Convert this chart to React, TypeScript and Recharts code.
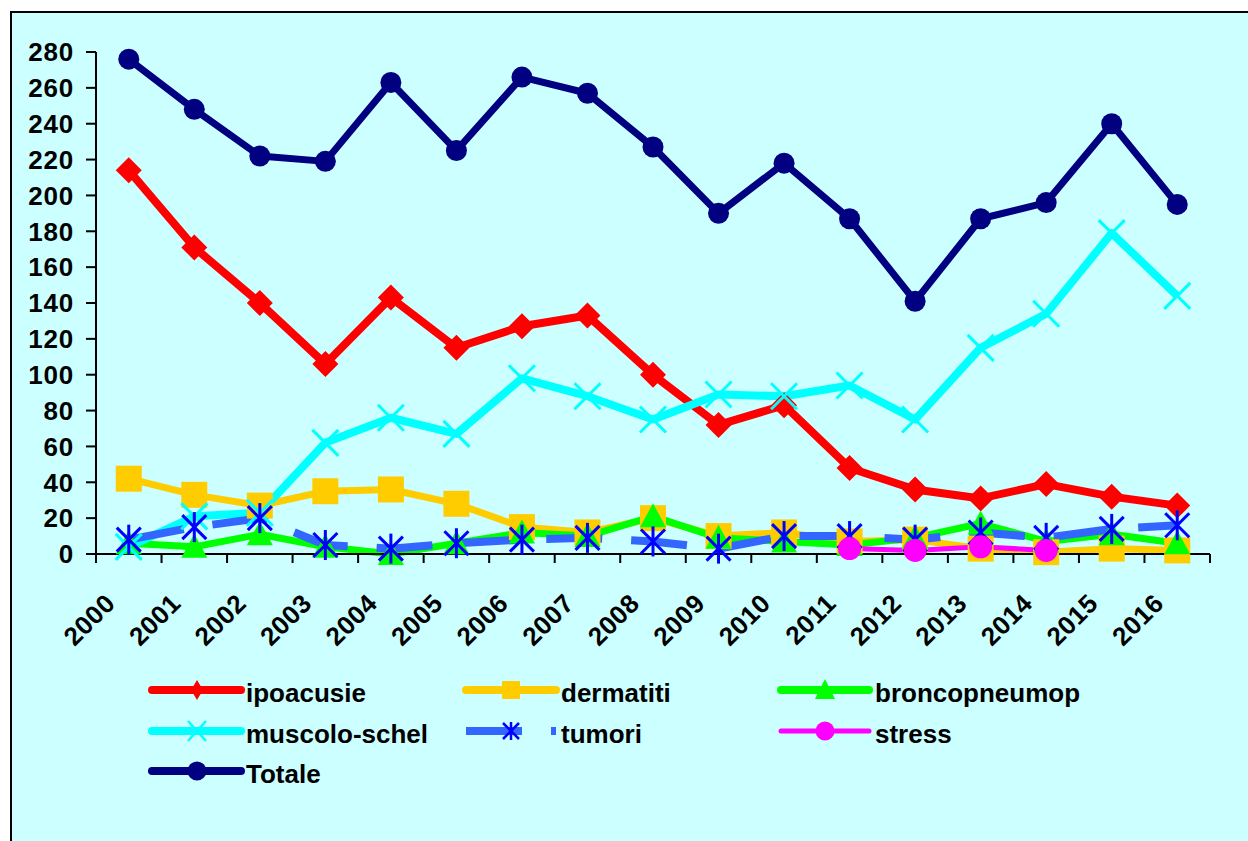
import React from 'react';
import { LineChart, Line, XAxis, YAxis } from 'recharts';

const YEARS = ['2000','2001','2002','2003','2004','2005','2006','2007','2008','2009','2010','2011','2012','2013','2014','2015','2016'];
const IPOACUSIE = [214,171,140,106,143,115,127,133,100,72,83,48,36,31,39,32,27];
const DERMATITI = [42,33,27,35,36,28,15,12,20,10,12,7,8,3,1,3,2];
const BRONCOPNEUMOP = [6,4,11,4,0,6,12,10,21,9,7,5,9,17,7,11,6];
const MUSCOLO = [4,21,23,62,76,67,98,88,75,89,88,94,75,115,134,179,144];
const TUMORI = [8,15,20,5,3,6,8,9,7,3,10,10,8,12,9,14,16];
const STRESS: (number | null)[] = [null,null,null,null,null,null,null,null,null,null,null,3,2,4,2,null,null];
const TOTALE = [276,248,222,219,263,225,266,257,227,190,218,187,141,187,196,240,195];
const Y_TICKS = [0,20,40,60,80,100,120,140,160,180,200,220,240,260,280];
const X_TICKS = [0,1,2,3,4,5,6,7,8,9,10,11,12,13,14,15,16,17];

const data = YEARS.map((y, i) => ({
  x: i + 0.5,
  year: y,
  ipoacusie: IPOACUSIE[i],
  dermatiti: DERMATITI[i],
  broncopneumop: BRONCOPNEUMOP[i],
  muscolo: MUSCOLO[i],
  tumori: TUMORI[i],
  stress: STRESS[i],
  totale: TOTALE[i],
}));

const FONT = '"Liberation Sans", Arial, Helvetica, sans-serif';
const CHART_W = 1240;
const CHART_H = 828;
const MARGIN = { top: 39, right: 42, bottom: 0, left: 0 };
const Y_W = 84;
const PLOT_W = CHART_W - MARGIN.right - MARGIN.left - Y_W;
const STEP = PLOT_W / 17;

const RED = '#FF0000';
const ORANGE = '#FFCC00';
const GREEN = '#00FF00';
const CYAN = '#00FFFF';
const BLUE_LINE = '#3366FF';
const BLUE_MARK = '#0000FF';
const MAGENTA = '#FF00FF';
const NAVY = '#000080';

const ok = (p: any) => p && p.cx != null && p.cy != null && p.value != null && !isNaN(p.cx) && !isNaN(p.cy);

const diamondDot = (p: any) => {
  if (!ok(p)) return <g key={`dm${p.index}`} />;
  const { cx, cy } = p; const r = 13;
  return <polygon key={`dm${p.index}`} points={`${cx},${cy - r} ${cx + r},${cy} ${cx},${cy + r} ${cx - r},${cy}`} fill={RED} />;
};
const squareDot = (p: any) => {
  if (!ok(p)) return <g key={`sq${p.index}`} />;
  const { cx, cy } = p; const h = 13;
  return <rect key={`sq${p.index}`} x={cx - h} y={cy - h} width={2 * h} height={2 * h} fill={ORANGE} />;
};
const triangleDot = (p: any) => {
  if (!ok(p)) return <g key={`tr${p.index}`} />;
  const { cx, cy } = p;
  return <polygon key={`tr${p.index}`} points={`${cx},${cy - 13} ${cx + 13},${cy + 11} ${cx - 13},${cy + 11}`} fill={GREEN} />;
};
const xDot = (p: any) => {
  if (!ok(p)) return <g key={`xx${p.index}`} />;
  const { cx, cy } = p; const r = 13;
  return (
    <g key={`xx${p.index}`} stroke={CYAN} strokeWidth={3}>
      <line x1={cx - r} y1={cy - r} x2={cx + r} y2={cy + r} />
      <line x1={cx - r} y1={cy + r} x2={cx + r} y2={cy - r} />
    </g>
  );
};
const starDot = (p: any) => {
  if (!ok(p)) return <g key={`st${p.index}`} />;
  const { cx, cy } = p; const r = 12;
  return (
    <g key={`st${p.index}`} stroke={BLUE_MARK} strokeWidth={3}>
      <line x1={cx - r} y1={cy - r} x2={cx + r} y2={cy + r} />
      <line x1={cx - r} y1={cy + r} x2={cx + r} y2={cy - r} />
      <line x1={cx} y1={cy - 15} x2={cx} y2={cy + 15} />
    </g>
  );
};
const magDot = (p: any) => {
  if (!ok(p)) return <g key={`mg${p.index}`} />;
  return <circle key={`mg${p.index}`} cx={p.cx} cy={p.cy} r={11.5} fill={MAGENTA} />;
};
const navyDot = (p: any) => {
  if (!ok(p)) return <g key={`nv${p.index}`} />;
  return <circle key={`nv${p.index}`} cx={p.cx} cy={p.cy} r={10.5} fill={NAVY} />;
};

const XTick = (props: any) => {
  const { x, y, payload } = props;
  const i = payload.value;
  if (i >= YEARS.length) return <g />;
  const ax = x + STEP / 2 - 12;
  const ay = y + 40;
  return (
    <text x={ax} y={ay} transform={`rotate(-45, ${ax}, ${ay})`} textAnchor="end" fontSize={26} fontWeight="bold" fontFamily={FONT} fill="#000" letterSpacing={0.5}>
      {YEARS[i]}
    </text>
  );
};

type LegendItem = { name: string; col: number; row: number; kind: string };
const LEGEND: LegendItem[] = [
  { name: 'ipoacusie', col: 0, row: 0, kind: 'diamond' },
  { name: 'dermatiti', col: 1, row: 0, kind: 'square' },
  { name: 'broncopneumop', col: 2, row: 0, kind: 'triangle' },
  { name: 'muscolo-schel', col: 0, row: 1, kind: 'x' },
  { name: 'tumori', col: 1, row: 1, kind: 'star' },
  { name: 'stress', col: 2, row: 1, kind: 'mag' },
  { name: 'Totale', col: 0, row: 2, kind: 'navy' },
];
const COL_X0 = [152, 466, 781];
const COL_X1 = [241, 556, 869];
const COL_M = [197, 511, 825];
const COL_T = [246, 561, 875];
const ROW_Y = [690, 731, 771];

const LegendSvg = () => (
  <svg width={1248} height={841} style={{ position: 'absolute', left: 0, top: 0, pointerEvents: 'none' }}>
    {LEGEND.map((it) => {
      const x0 = COL_X0[it.col], x1 = COL_X1[it.col], m = COL_M[it.col], t = COL_T[it.col], y = ROW_Y[it.row];
      let line: React.ReactNode = null;
      let mark: React.ReactNode = null;
      if (it.kind === 'diamond') {
        line = <line x1={x0} y1={y} x2={x1} y2={y} stroke={RED} strokeWidth={8} strokeLinecap="round" />;
        mark = <polygon points={`${m},${y - 10} ${m + 6},${y} ${m},${y + 10} ${m - 6},${y}`} fill={RED} />;
      } else if (it.kind === 'square') {
        line = <line x1={x0} y1={y} x2={x1} y2={y} stroke={ORANGE} strokeWidth={8} strokeLinecap="round" />;
        mark = <rect x={m - 9} y={y - 9} width={18} height={18} rx={1} fill={ORANGE} />;
      } else if (it.kind === 'triangle') {
        line = <line x1={x0} y1={y} x2={x1} y2={y} stroke={GREEN} strokeWidth={8} strokeLinecap="round" />;
        mark = <polygon points={`${m},${y - 11} ${m + 10},${y + 9} ${m - 10},${y + 9}`} fill={GREEN} />;
      } else if (it.kind === 'x') {
        line = <line x1={x0} y1={y} x2={x1} y2={y} stroke={CYAN} strokeWidth={8} strokeLinecap="round" />;
        mark = (
          <g stroke={CYAN} strokeWidth={2.5}>
            <line x1={m - 9} y1={y - 10} x2={m + 9} y2={y + 10} />
            <line x1={m - 9} y1={y + 10} x2={m + 9} y2={y - 10} />
          </g>
        );
      } else if (it.kind === 'star') {
        line = <line x1={x0} y1={y} x2={x1} y2={y} stroke={BLUE_LINE} strokeWidth={8} strokeDasharray="56 29" />;
        mark = (
          <g stroke={BLUE_MARK} strokeWidth={2.5}>
            <line x1={m - 8} y1={y - 8} x2={m + 8} y2={y + 8} />
            <line x1={m - 8} y1={y + 8} x2={m + 8} y2={y - 8} />
            <line x1={m} y1={y - 9} x2={m} y2={y + 9} />
          </g>
        );
      } else if (it.kind === 'mag') {
        line = <line x1={x0} y1={y} x2={x1} y2={y} stroke={MAGENTA} strokeWidth={5} strokeLinecap="round" />;
        mark = <circle cx={m} cy={y} r={9.5} fill={MAGENTA} />;
      } else {
        line = <line x1={x0} y1={y} x2={x1} y2={y} stroke={NAVY} strokeWidth={8} strokeLinecap="round" />;
        mark = <circle cx={m} cy={y} r={9.5} fill={NAVY} />;
      }
      return (
        <g key={it.name}>
          {line}
          {mark}
          <text x={t} y={y + 12} fontSize={26} fontWeight="bold" fontFamily={FONT} fill="#000">{it.name}</text>
        </g>
      );
    })}
  </svg>
);

export default function App() {
  return (
    <div style={{ position: 'fixed', left: 0, top: 0, width: 1248, height: 841, overflow: 'hidden', background: '#fff' }}>
      <div style={{ position: 'absolute', left: 10, top: 11, width: 1262, height: 850, boxSizing: 'border-box', border: '2px solid #000', background: '#CCFFFF' }}>
        <div style={{ position: 'absolute', left: 0, top: 0 }}>
          <LineChart width={CHART_W} height={CHART_H} data={data} margin={MARGIN}>
            <XAxis
              dataKey="x"
              type="number"
              domain={[0, 17]}
              ticks={X_TICKS}
              interval={0}
              allowDataOverflow
              height={CHART_H - MARGIN.top - 502 - MARGIN.bottom}
              tickSize={9}
              tickMargin={2}
              axisLine={{ stroke: '#000', strokeWidth: 2 }}
              tickLine={{ stroke: '#000', strokeWidth: 2 }}
              tick={<XTick />}
            />
            <YAxis
              type="number"
              domain={[0, 280]}
              ticks={Y_TICKS}
              interval={0}
              width={Y_W}
              tickSize={10}
              tickMargin={12}
              axisLine={{ stroke: '#000', strokeWidth: 2 }}
              tickLine={{ stroke: '#000', strokeWidth: 2 }}
              tick={{ fontSize: 26, fontWeight: 'bold', fontFamily: FONT, fill: '#000', letterSpacing: 0.8 }}
            />
            <Line dataKey="ipoacusie" stroke={RED} strokeWidth={8} dot={diamondDot} activeDot={false} isAnimationActive={false} strokeLinejoin="round" />
            <Line dataKey="dermatiti" stroke={ORANGE} strokeWidth={7} dot={squareDot} activeDot={false} isAnimationActive={false} strokeLinejoin="round" />
            <Line dataKey="broncopneumop" stroke={GREEN} strokeWidth={7} dot={triangleDot} activeDot={false} isAnimationActive={false} strokeLinejoin="round" />
            <Line dataKey="muscolo" stroke={CYAN} strokeWidth={8} dot={xDot} activeDot={false} isAnimationActive={false} strokeLinejoin="round" />
            <Line dataKey="tumori" stroke={BLUE_LINE} strokeWidth={8} strokeDasharray="56 29" dot={starDot} activeDot={false} isAnimationActive={false} />
            <Line dataKey="stress" stroke={MAGENTA} strokeWidth={5} dot={magDot} activeDot={false} isAnimationActive={false} />
            <Line dataKey="totale" stroke={NAVY} strokeWidth={7} dot={navyDot} activeDot={false} isAnimationActive={false} strokeLinejoin="round" />
          </LineChart>
        </div>
      </div>
      <LegendSvg />
    </div>
  );
}
